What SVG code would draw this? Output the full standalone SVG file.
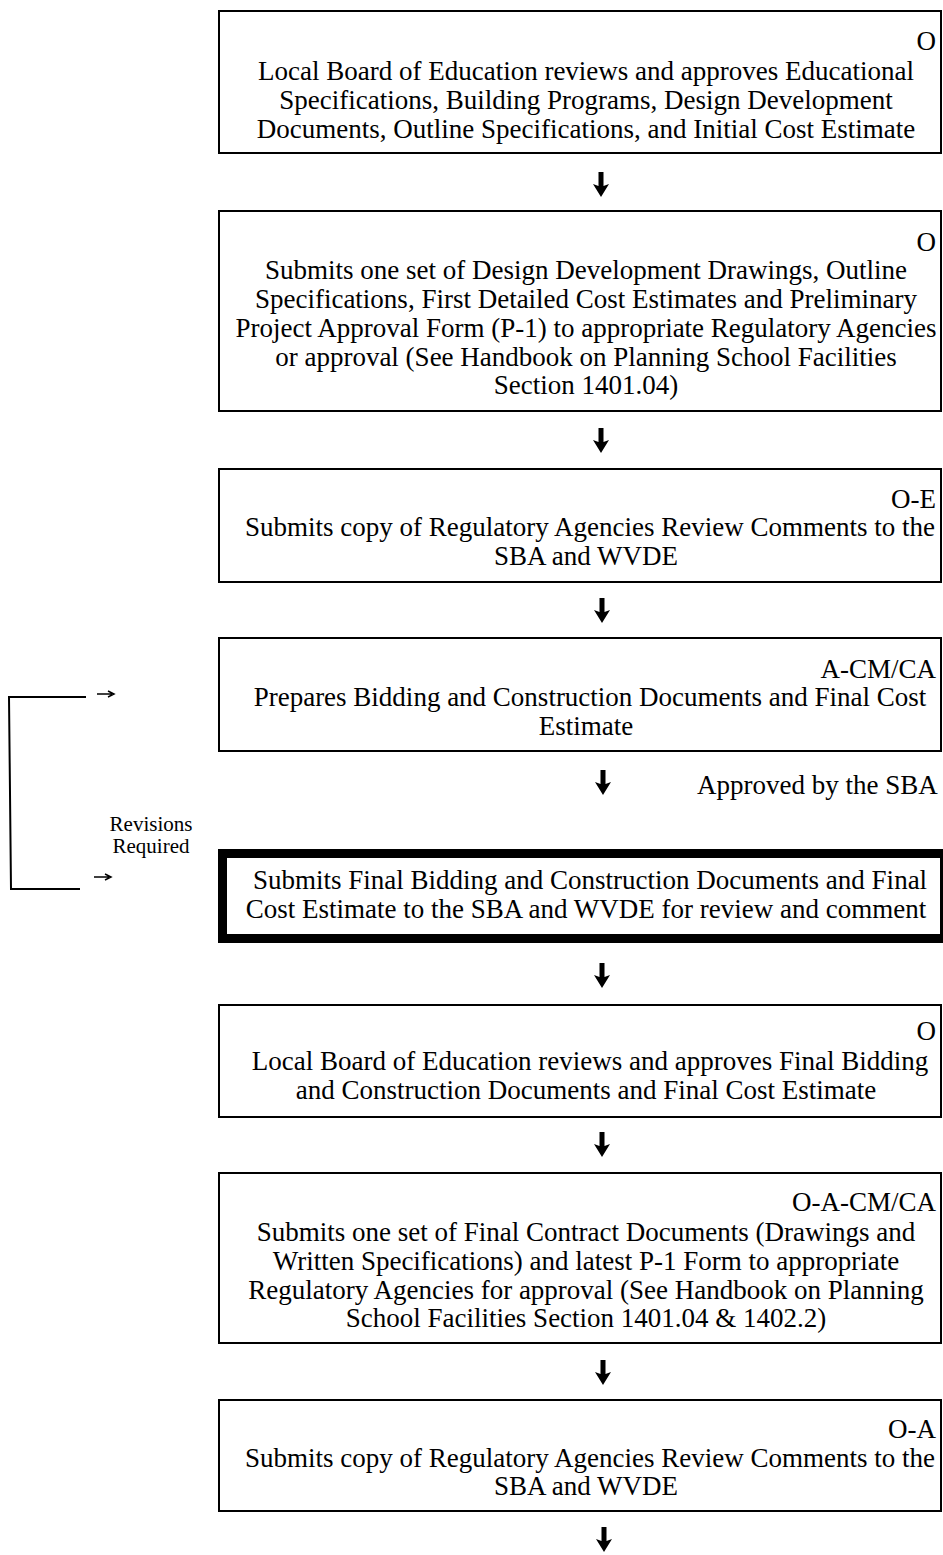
<svg xmlns="http://www.w3.org/2000/svg" width="943" height="1555" viewBox="0 0 943 1555">
<style>
.box{fill:#fff;stroke:#000;stroke-width:2}
.thick{fill:#fff;stroke:#000;stroke-width:9}
.t{font-family:"Liberation Serif","Times New Roman",serif;font-size:27px;fill:#000;text-anchor:middle}
.lbl{font-family:"Liberation Serif","Times New Roman",serif;font-size:27px;fill:#000;text-anchor:end}
.sm{font-family:"Liberation Serif","Times New Roman",serif;font-size:21px;fill:#000;text-anchor:middle}
.ln{fill:none;stroke:#000;stroke-width:2}
.ar{fill:#000}
</style>
<defs>
<path id="dn" d="M-2.5 0 L2.5 0 L2.5 14 L8 12 L0 25 L-8 12 L-2.5 14 Z"/>
<path id="rt" d="M0 0 L15 0 M11 -3 L17 0 L11 3"/>
</defs>
<rect width="943" height="1555" fill="#fff"/>

<g id="node1">
<rect class="box" x="219" y="11" width="722" height="142"/>
<text class="lbl" x="936" y="50">O</text>
<text class="t" x="586" y="80">Local Board of Education reviews and approves Educational</text>
<text class="t" x="586" y="109">Specifications, Building Programs, Design Development</text>
<text class="t" x="586" y="138">Documents, Outline Specifications, and Initial Cost Estimate</text>
</g>

<g id="node2">
<rect class="box" x="219" y="211" width="722" height="200"/>
<text class="lbl" x="936" y="251">O</text>
<text class="t" x="586" y="279">Submits one set of Design Development Drawings, Outline</text>
<text class="t" x="586" y="308">Specifications, First Detailed Cost Estimates and Preliminary</text>
<text class="t" x="586" y="337">Project Approval Form (P-1) to appropriate Regulatory Agencies</text>
<text class="t" x="586" y="366">or approval (See Handbook on Planning School Facilities</text>
<text class="t" x="586" y="394">Section 1401.04)</text>
</g>

<g id="node3">
<rect class="box" x="219" y="469" width="722" height="113"/>
<text class="lbl" x="936" y="508">O-E</text>
<text class="t" x="590" y="536">Submits copy of Regulatory Agencies Review Comments to the</text>
<text class="t" x="586" y="565">SBA and WVDE</text>
</g>

<g id="node4">
<rect class="box" x="219" y="638" width="722" height="113"/>
<text class="lbl" x="936" y="678">A-CM/CA</text>
<text class="t" x="590" y="706">Prepares Bidding and Construction Documents and Final Cost</text>
<text class="t" x="586" y="735">Estimate</text>
</g>

<g id="node5">
<rect class="thick" x="222.5" y="853.5" width="722" height="85"/>
<text class="t" x="590" y="889">Submits Final Bidding and Construction Documents and Final</text>
<text class="t" x="586" y="918">Cost Estimate to the SBA and WVDE for review and comment</text>
</g>

<g id="node6">
<rect class="box" x="219" y="1005" width="722" height="112"/>
<text class="lbl" x="936" y="1040">O</text>
<text class="t" x="590" y="1070">Local Board of Education reviews and approves Final Bidding</text>
<text class="t" x="586" y="1099">and Construction Documents and Final Cost Estimate</text>
</g>

<g id="node7">
<rect class="box" x="219" y="1173" width="722" height="170"/>
<text class="lbl" x="936" y="1211">O-A-CM/CA</text>
<text class="t" x="586" y="1241">Submits one set of Final Contract Documents (Drawings and</text>
<text class="t" x="586" y="1270">Written Specifications) and latest P-1 Form to appropriate</text>
<text class="t" x="586" y="1299">Regulatory Agencies for approval (See Handbook on Planning</text>
<text class="t" x="586" y="1327">School Facilities Section 1401.04 &amp; 1402.2)</text>
</g>

<g id="node8">
<rect class="box" x="219" y="1400" width="722" height="111"/>
<text class="lbl" x="936" y="1438">O-A</text>
<text class="t" x="590" y="1467">Submits copy of Regulatory Agencies Review Comments to the</text>
<text class="t" x="586" y="1495">SBA and WVDE</text>
</g>

<g id="connectors">
<use href="#dn" class="ar" x="601" y="172"/>
<use href="#dn" class="ar" x="601" y="428"/>
<use href="#dn" class="ar" x="602" y="598"/>
<use href="#dn" class="ar" x="603" y="770"/>
<text class="lbl" x="933" y="794" style="text-anchor:start" dx="-236">Approved by the SBA</text>
<use href="#dn" class="ar" x="602" y="963"/>
<use href="#dn" class="ar" x="602" y="1132"/>
<use href="#dn" class="ar" x="603" y="1360"/>
<use href="#dn" class="ar" x="604" y="1527"/>
<path class="ln" d="M86 697 L9 697 L11 889 L80 889"/>
<use href="#rt" class="ln" style="stroke-width:1.5" x="97" y="694"/>
<use href="#rt" class="ln" style="stroke-width:1.5" x="94" y="877"/>
<text class="sm" x="151" y="831">Revisions</text>
<text class="sm" x="151" y="853">Required</text>
</g>
</svg>
